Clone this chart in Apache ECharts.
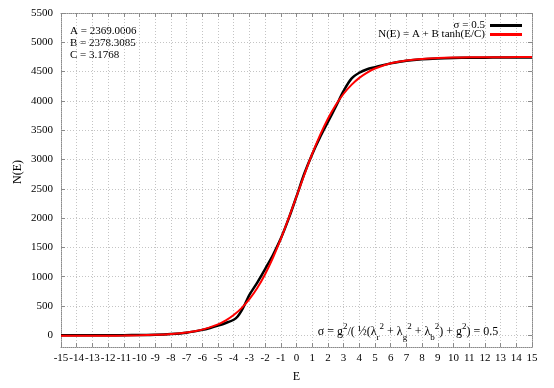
<!DOCTYPE html>
<html>
<head>
<meta charset="utf-8">
<script src="https://cdn.jsdelivr.net/npm/echarts@6/dist/echarts.min.js"></script>
<style>
html,body{margin:0;padding:0;background:#fff}
#chart{width:554px;height:388px}
</style>
</head>
<body>
<div id="chart"></div>
<script>
const energies = [-15,-14,-13,-12,-11,-10,-9,-8,-7,-6,-5.5,-5,-4.5,-4,-3.75,-3.5,-3.25,-3,-2.5,-2,-1.5,-1,-0.5,0,0.5,1,1.5,2,2.5,3,3.5,4,4.5,5,5.5,6,7,8,9,10,11,12,13,14,15]
const counts = [0,0,0,1,2,5,10,22,45,92,125,165,210,265,320,420,550,690,900,1130,1370,1650,1990,2370,2760,3090,3380,3640,3900,4170,4380,4480,4540,4575,4610,4640,4685,4712,4725,4732,4736,4738,4739,4740,4740]

// fitted curve N(E) = A + B tanh(E/C)
const fitEnergies = [-15,-14,-13,-12,-11,-10,-9,-8,-7,-6,-5,-4.5,-4,-3.5,-3,-2.5,-2,-1.5,-1,-0.5,0,0.5,1,1.5,2,2.5,3,3.5,4,4.5,5,6,7,8,9,10,11,12,13,14,15]
const fitCounts = [-9,-9,-8,-7,-5,-1,7,21,48,97,187,255,346,464,616,807,1043,1323,1644,1998,2369,2740,3094,3415,3696,3931,4122,4274,4393,4483,4552,4641,4690,4717,4731,4739,4743,4745,4746,4747,4747]

const yTicks = [0,500,1000,1500,2000,2500,3000,3500,4000,4500,5000,5500]

const legendNames = ['σ = 0.5', 'N(E) = A + B tanh(E/C)']
const fitParams = ['A = 2369.0006', 'B = 2378.3085', 'C = 3.1768']

const serif = 'Liberation Serif'
const gridColor = '#c4c4c4'
const borderColor = '#8a8a8a'

function zip(xs, ys) {
  return xs.map((x, i) => [x, ys[i]])
}

const chart = echarts.init(document.getElementById('chart'))

const dotted = { color: borderColor, width: 1, type: [1, 1] }

chart.setOption({
  animation: false,
  backgroundColor: '#fff',
  textStyle: { fontFamily: serif },
  grid: { left: 61, right: 22, top: 13, bottom: 34 },
  legend: {
    orient: 'vertical',
    right: 27,
    top: 15,
    align: 'right',
    itemWidth: 32,
    itemHeight: 3,
    itemGap: -2,
    icon: 'rect',
    textStyle: { fontFamily: serif, fontSize: 11, color: '#000' },
    data: legendNames
  },
  xAxis: [{
    type: 'value',
    min: -15,
    max: 15,
    interval: 1,
    name: 'E',
    nameLocation: 'middle',
    nameGap: 24,
    nameTextStyle: { fontFamily: serif, fontSize: 12, color: '#000' },
    axisLine: { onZero: false, lineStyle: dotted },
    axisTick: { inside: true, length: 4, lineStyle: { color: borderColor } },
    axisLabel: {
      fontFamily: serif, fontSize: 11, color: '#000', margin: 6,
      showMinLabel: true, showMaxLabel: true,
      hideOverlap: false
    },
    splitLine: { show: true, lineStyle: { color: gridColor, type: [1, 2] } }
  }, {
    type: 'value',
    position: 'top',
    min: -15,
    max: 15,
    interval: 1,
    axisLine: { onZero: false, lineStyle: dotted },
    axisTick: { inside: true, length: 4, lineStyle: { color: borderColor } },
    axisLabel: { show: false },
    splitLine: { show: false }
  }],
  yAxis: [{
    type: 'value',
    min: -200,
    max: 5500,
    axisLine: { show: true, onZero: false, lineStyle: dotted },
    axisTick: { show: true, inside: true, length: 4, customValues: yTicks, lineStyle: { color: borderColor } },
    axisLabel: { fontFamily: serif, fontSize: 11, color: '#000', margin: 8, customValues: yTicks, formatter: v => '' + v },
    splitLine: { show: true, lineStyle: { color: gridColor, type: [1, 2] } }
  }, {
    type: 'value',
    position: 'right',
    min: -200,
    max: 5500,
    axisLine: { show: true, onZero: false, lineStyle: dotted },
    axisTick: { show: true, inside: true, length: 4, customValues: yTicks, lineStyle: { color: borderColor } },
    axisLabel: { show: false },
    splitLine: { show: false }
  }],
  series: [{
    name: legendNames[0],
    type: 'line',
    data: zip(energies, counts),
    showSymbol: false,
    smooth: 0.3,
    color: '#000',
    lineStyle: { color: '#000', width: 2.5 },
    z: 2
  }, {
    name: legendNames[1],
    type: 'line',
    data: zip(fitEnergies, fitCounts),
    showSymbol: false,
    smooth: 0.4,
    color: '#ff0000',
    lineStyle: { color: '#ff0000', width: 2 },
    z: 3
  }],
  graphic: [{
    type: 'text',
    left: 70,
    top: 25,
    style: {
      text: fitParams.join('\n'),
      font: '11px "Liberation Serif"',
      lineHeight: 12,
      fill: '#000'
    }
  }, {
    type: 'text',
    x: 18,
    y: 172,
    rotation: Math.PI / 2,
    style: {
      text: 'N(E)',
      font: '12px "Liberation Serif"',
      align: 'center',
      verticalAlign: 'middle',
      fill: '#000'
    }
  }, {
    type: 'text',
    x: 408,
    y: 332,
    z: 10,
    style: {
      text: '{m|σ = g}{sup|2}{m|/( ½(λ}{sub|r}{sup|2}{m| + λ}{sub|g}{sup|2}{m| + λ}{sub|b}{sup|2}{m|) + g}{sup|2}{m|) = 0.5}',
      align: 'center',
      verticalAlign: 'middle',
      rich: {
        m: { fontFamily: serif, fontSize: 12, lineHeight: 20, verticalAlign: 'middle', fill: '#000' },
        sup: { fontFamily: serif, fontSize: 9, lineHeight: 20, verticalAlign: 'top', fill: '#000' },
        sub: { fontFamily: serif, fontSize: 9, lineHeight: 20, verticalAlign: 'bottom', fill: '#000' }
      }
    }
  }]
})
</script>
</body>
</html>
